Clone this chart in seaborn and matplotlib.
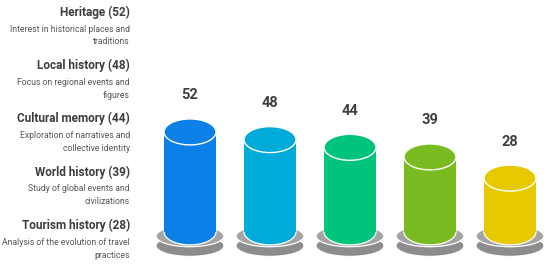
import matplotlib
matplotlib.use("Agg")
import matplotlib.pyplot as plt
from matplotlib.patches import Ellipse
import seaborn as sns
import pandas as pd

# dados do gráfico
categorias = ["Heritage", "Local history", "Cultural memory", "World history", "Tourism history"]
valores = [52, 48, 44, 39, 28]
descricoes = [
    "Interest in historical places and\ntraditions",
    "Focus on regional events and\nfigures",
    "Exploration of narratives and\ncollective identity",
    "Study of global events and\ncivilizations",
    "Analysis of the evolution of travel\npractices",
]
cores = ["#0b80e6", "#00abd9", "#00c47b", "#7abb21", "#e6c900"]

sns.set_style("white")
plt.rcParams["font.family"] = ["Roboto", "DejaVu Sans"]

df = pd.DataFrame({"Categoria": categorias, "Valor": valores})

fig = plt.figure(figsize=(5.5, 2.65), dpi=100)
ax = fig.add_axes([150 / 550, 0, 400 / 550, 1])

# corpo dos cilindros
sns.barplot(data=df, x="Categoria", y="Valor", hue="Categoria", palette=cores,
            saturation=1, width=0.65, legend=False, ax=ax, linewidth=0, zorder=3)

ax.set_xlim(-0.5, 4.5)
ax.set_ylim(-17.2, 120.6)
ax.axis("off")

larg = 0.65
alt = 13.5  # altura da elipse em unidades de valor
for i, (v, c) in enumerate(zip(valores, cores)):
    # base cinza
    ax.add_patch(Ellipse((i, -7.2), 0.85, 11.0, facecolor="#8c8c8c", edgecolor="white", lw=0.8, zorder=1))
    ax.add_patch(Ellipse((i, -2.2), 0.85, 11.0, facecolor="#a4a4a4", edgecolor="white", lw=0.9, zorder=1.5))
    # fundo do cilindro
    ax.add_patch(Ellipse((i, 0), larg, alt, facecolor=c, edgecolor="white", lw=0.9, zorder=2))
    # topo do cilindro
    ax.add_patch(Ellipse((i, v), larg, alt, facecolor=c, edgecolor="white", lw=1.0, zorder=4))
    ax.text(i, v + 19, str(v), ha="center", va="center", fontsize=10.5,
            fontweight="bold", color="#3f3f3f")

# textos à esquerda
for k, (cat, v, d) in enumerate(zip(categorias, valores, descricoes)):
    y0 = 1 - (12 + 53.3 * k) / 265
    fig.text(130 / 550, y0, f"{cat} ({v})", ha="right", va="center", fontsize=8.5,
             fontweight="bold", color="#3d3d3d")
    fig.text(130 / 550, y0 - 12.5 / 265, d, ha="right", va="top", fontsize=6.2,
             color="#575757", linespacing=1.55)

fig.savefig("out.png", dpi=100, facecolor="white")
